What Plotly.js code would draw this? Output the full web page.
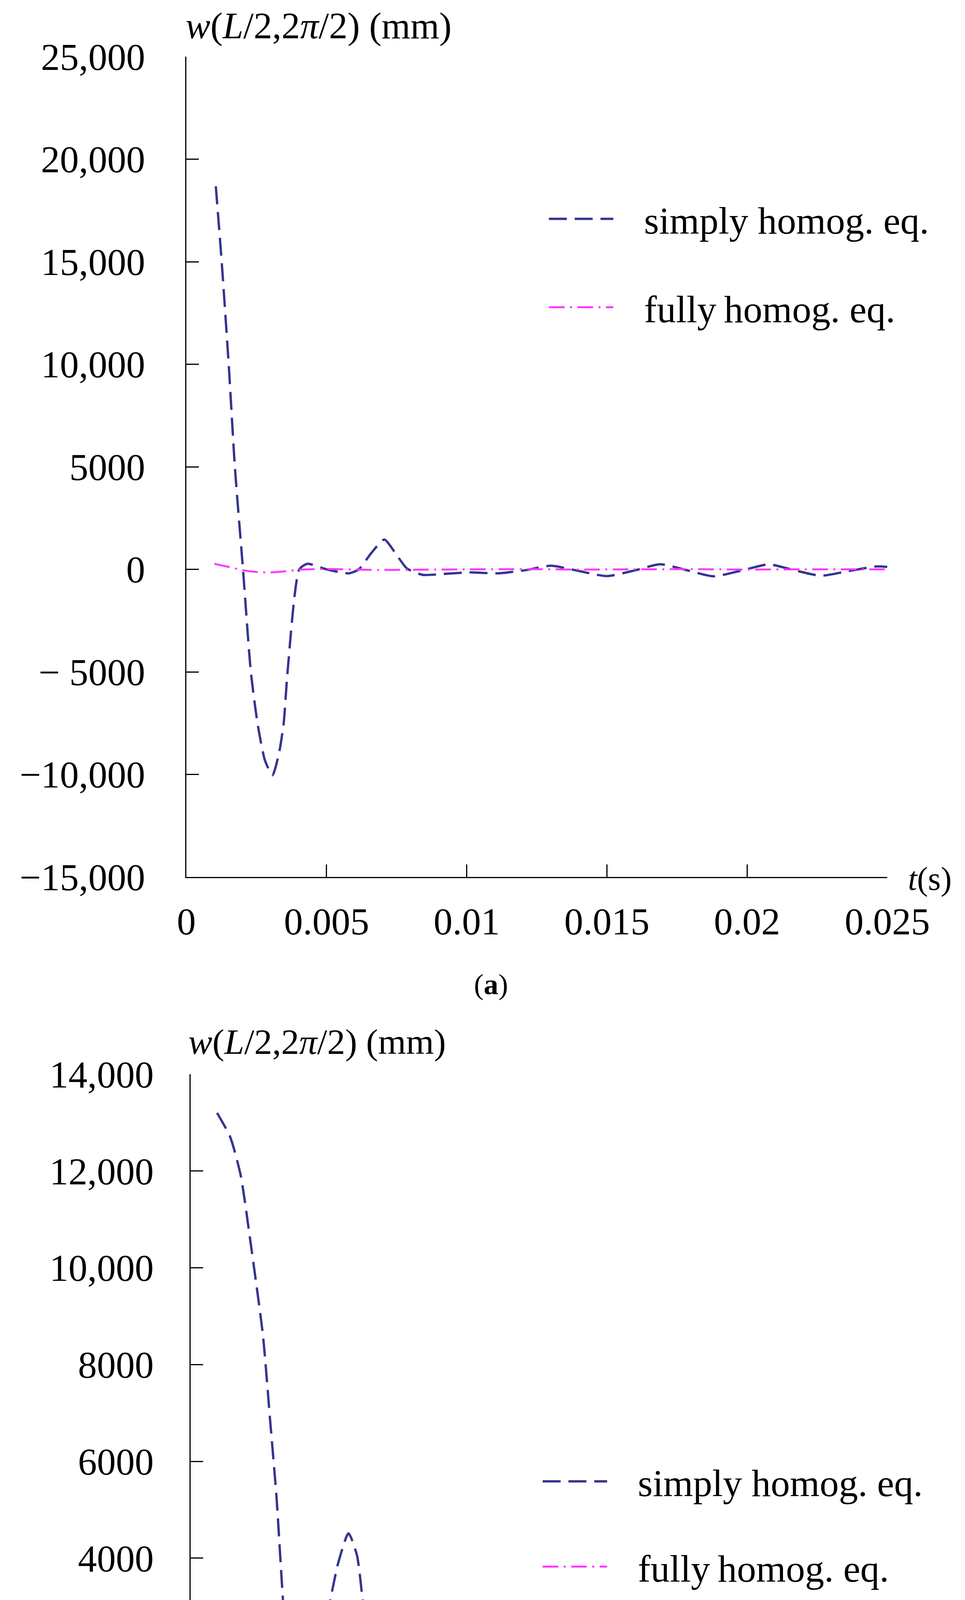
<!DOCTYPE html>
<html>
<head>
<meta charset="utf-8">
<script src="https://cdn.plot.ly/plotly-3.0.1.min.js"></script>
<style>
html,body{margin:0;padding:0;background:#fff;}
#chart{width:2470px;height:5058px;}
</style>
</head>
<body>
<div id="chart"></div>
<script>
// ---------- data ----------
// panel (a)
const tSimplyA = [0.00105, 0.00126, 0.00151, 0.00173, 0.00202, 0.0023, 0.00254, 0.0028, 0.00307, 0.0033, 0.00347, 0.00361, 0.00403, 0.00432, 0.0050, 0.0058, 0.00615, 0.0066, 0.00706, 0.0075, 0.00787, 0.00844, 0.0091, 0.0101, 0.01114, 0.0121, 0.0130, 0.0140, 0.0150, 0.0160, 0.0169, 0.0179, 0.0188, 0.0198, 0.02078, 0.0217, 0.02263, 0.0236, 0.0246, 0.0250];
const wSimplyA = [18680, 15000, 10000, 5000, 0, -5000, -7520, -9300, -10040, -9000, -7520, -5000, 0, 270, 0, -194, 0, 800, 1453, 700, 40, -271, -230, -150, -194, -40, 174, -80, -330, -50, 250, -60, -340, -60, 240, -50, -311, -90, 140, 120];
const tFullyA = [0.001, 0.0015, 0.002, 0.0025, 0.003, 0.0035, 0.004, 0.005, 0.006, 0.007, 0.008, 0.009, 0.010, 0.012, 0.014, 0.016, 0.018, 0.020, 0.022, 0.024, 0.025];
const wFullyA = [270, 120, -40, -130, -150, -100, -20, 20, -10, -30, -20, -10, 0, 10, -10, 0, 10, -10, 0, 0, 0];

// panel (b)
const tSimplyB = [0.001, 0.0015, 0.0019, 0.00225, 0.00274, 0.00301, 0.00325, 0.00345, 0.00366, 0.00389, 0.00414, 0.00446, 0.00478, 0.00518, 0.00558, 0.00598, 0.0063, 0.00654, 0.00679, 0.00711, 0.0075, 0.0080, 0.00855, 0.0092, 0.01016, 0.01096, 0.01208, 0.01305, 0.0140, 0.01498, 0.01594, 0.0169, 0.01787, 0.01883, 0.0198, 0.02076, 0.02172, 0.02252, 0.02365, 0.02493, 0.0250];
const wSimplyB = [13200, 12700, 11900, 10600, 8600, 6850, 5280, 3540, 1790, 480, -150, 740, 1960, 2840, 3880, 4510, 4060, 3010, 1880, 920, 390, 0, -150, -113, 44, 113, 0, -175, -245, -150, 0, 220, 290, 220, 0, -175, -245, -175, 44, 190, 195];
const tFullyB = [0.001, 0.002, 0.0028, 0.0041, 0.0045, 0.0053, 0.0065, 0.0076, 0.0095, 0.012, 0.014, 0.016, 0.018, 0.020, 0.022, 0.024, 0.025];
const wFullyB = [131, 90, 44, 0, -50, -87, -70, -44, 0, 0, -20, -10, 0, 0, -20, -10, 0];

// ticks
const xTickVals = [0, 0.005, 0.01, 0.015, 0.02, 0.025];
const xTickText = ['0', '0.005', '0.01', '0.015', '0.02', '0.025'];
const yTickValsA = [-15000, -10000, -5000, 0, 5000, 10000, 15000, 20000, 25000];
const yTickTextA = ['\u221215,000', '\u221210,000', '\u2212 5000', '0', '5000', '10,000', '15,000', '20,000', '25,000'];
const yTickValsB = [-2000, 0, 2000, 4000, 6000, 8000, 10000, 12000, 14000];
const yTickTextB = ['\u2212 2000', '0', '2000', '4000', '6000', '8000', '10,000', '12,000', '14,000'];

const seriesNames = ['\u00a0\u00a0\u00a0simply homog. eq.', '\u00a0\u00a0\u00a0fully\u2009homog. eq.'];
const yTitle = '<i>w</i>(<i>L</i>/2,2<i>\u03c0</i>/2) (mm)';
const xTitle = '<i>t</i>(s)';

// ---------- layout helpers ----------
const W = 2470, H = 5058;
const px = v => v / W;
const py = v => 1 - v / H;
const FONT = 'Liberation Serif, Times New Roman, serif';
const BLUE = '#35358f';
const MAGENTA = '#ff38ff';

function axisBase() {
  return {
    showline: true, linecolor: '#000', linewidth: 3,
    ticks: 'inside', ticklen: 32, tickwidth: 3, tickcolor: '#000',
    showgrid: false, zeroline: false, mirror: false,
    tickfont: {family: FONT, size: 97, color: '#000'},
    tickmode: 'array', fixedrange: true
  };
}

const traces = [
  {x: tSimplyA, y: wSimplyA, xaxis: 'x', yaxis: 'y', mode: 'lines', name: seriesNames[0],
   legend: 'legend', legendgroup: 'a1',
   line: {color: BLUE, width: 6, dash: '46px,20px', shape: 'spline', smoothing: 0.6}},
  {x: tFullyA, y: wFullyA, xaxis: 'x', yaxis: 'y', mode: 'lines', name: seriesNames[1],
   legend: 'legend', legendgroup: 'a2',
   line: {color: MAGENTA, width: 5, dash: '40px,14px,5px,14px', shape: 'spline', smoothing: 0.6}},
  {x: tSimplyB, y: wSimplyB, xaxis: 'x2', yaxis: 'y2', mode: 'lines', name: seriesNames[0],
   legend: 'legend2', legendgroup: 'b1',
   line: {color: BLUE, width: 6, dash: '46px,20px', shape: 'spline', smoothing: 0.6}},
  {x: tFullyB, y: wFullyB, xaxis: 'x2', yaxis: 'y2', mode: 'lines', name: seriesNames[1],
   legend: 'legend2', legendgroup: 'b2',
   line: {color: MAGENTA, width: 5, dash: '40px,14px,5px,14px', shape: 'spline', smoothing: 0.6}}
];

const legendBase = {
  xanchor: 'left', yanchor: 'top', bgcolor: 'rgba(0,0,0,0)', borderwidth: 0,
  font: {family: FONT, size: 98, color: '#000'},
  itemwidth: 165, traceorder: 'grouped'
};

const layout = {
  width: W, height: H,
  margin: {l: 0, r: 0, t: 0, b: 0},
  paper_bgcolor: '#fff', plot_bgcolor: '#fff',
  font: {family: FONT, color: '#000', size: 96},
  showlegend: true,
  xaxis: Object.assign(axisBase(), {domain: [px(477), px(2271)], range: [0, 0.025], anchor: 'y',
    tickvals: xTickVals, ticktext: xTickText, ticklabelstandoff: 28}),
  yaxis: Object.assign(axisBase(), {domain: [py(2245), py(145)], range: [-15000, 25000], anchor: 'x',
    tickvals: yTickValsA, ticktext: yTickTextA, ticklabelstandoff: 83}),
  xaxis2: Object.assign(axisBase(), {domain: [px(488), px(2177)], range: [0, 0.025], anchor: 'y2',
    tickvals: xTickVals, ticktext: xTickText, ticklabelstandoff: 24}),
  yaxis2: Object.assign(axisBase(), {domain: [py(4732), py(2750)], range: [-2000, 14000], anchor: 'x2',
    tickvals: yTickValsB, ticktext: yTickTextB, ticklabelstandoff: 72}),
  legend: Object.assign({}, legendBase, {x: px(1400), y: py(490), tracegroupgap: 96}),
  legend2: Object.assign({}, legendBase, {x: px(1384), y: py(3722), tracegroupgap: 88}),
  annotations: [
    {text: yTitle, xref: 'paper', yref: 'paper', x: px(473), y: py(66), xanchor: 'left', yanchor: 'middle',
     showarrow: false, font: {family: FONT, size: 95, color: '#000'}},
    {text: yTitle, xref: 'paper', yref: 'paper', x: px(480), y: py(2667), xanchor: 'left', yanchor: 'middle',
     showarrow: false, font: {family: FONT, size: 92, color: '#000'}},
    {text: xTitle, xref: 'paper', yref: 'paper', x: px(2322), y: py(2250), xanchor: 'left', yanchor: 'middle',
     showarrow: false, font: {family: FONT, size: 84, color: '#000'}},
    {text: xTitle, xref: 'paper', yref: 'paper', x: px(2214), y: py(4720), xanchor: 'left', yanchor: 'middle',
     showarrow: false, font: {family: FONT, size: 84, color: '#000'}},
    {text: '(<b>a</b>)', xref: 'paper', yref: 'paper', x: px(1257), y: py(2519), xanchor: 'center', yanchor: 'middle',
     showarrow: false, font: {family: FONT, size: 75, color: '#000'}},
    {text: '(<b>b</b>)', xref: 'paper', yref: 'paper', x: px(1258), y: py(4981), xanchor: 'center', yanchor: 'middle',
     showarrow: false, font: {family: FONT, size: 75, color: '#000'}}
  ]
};

Plotly.newPlot('chart', traces, layout, {staticPlot: true, displayModeBar: false});
</script>
</body>
</html>
